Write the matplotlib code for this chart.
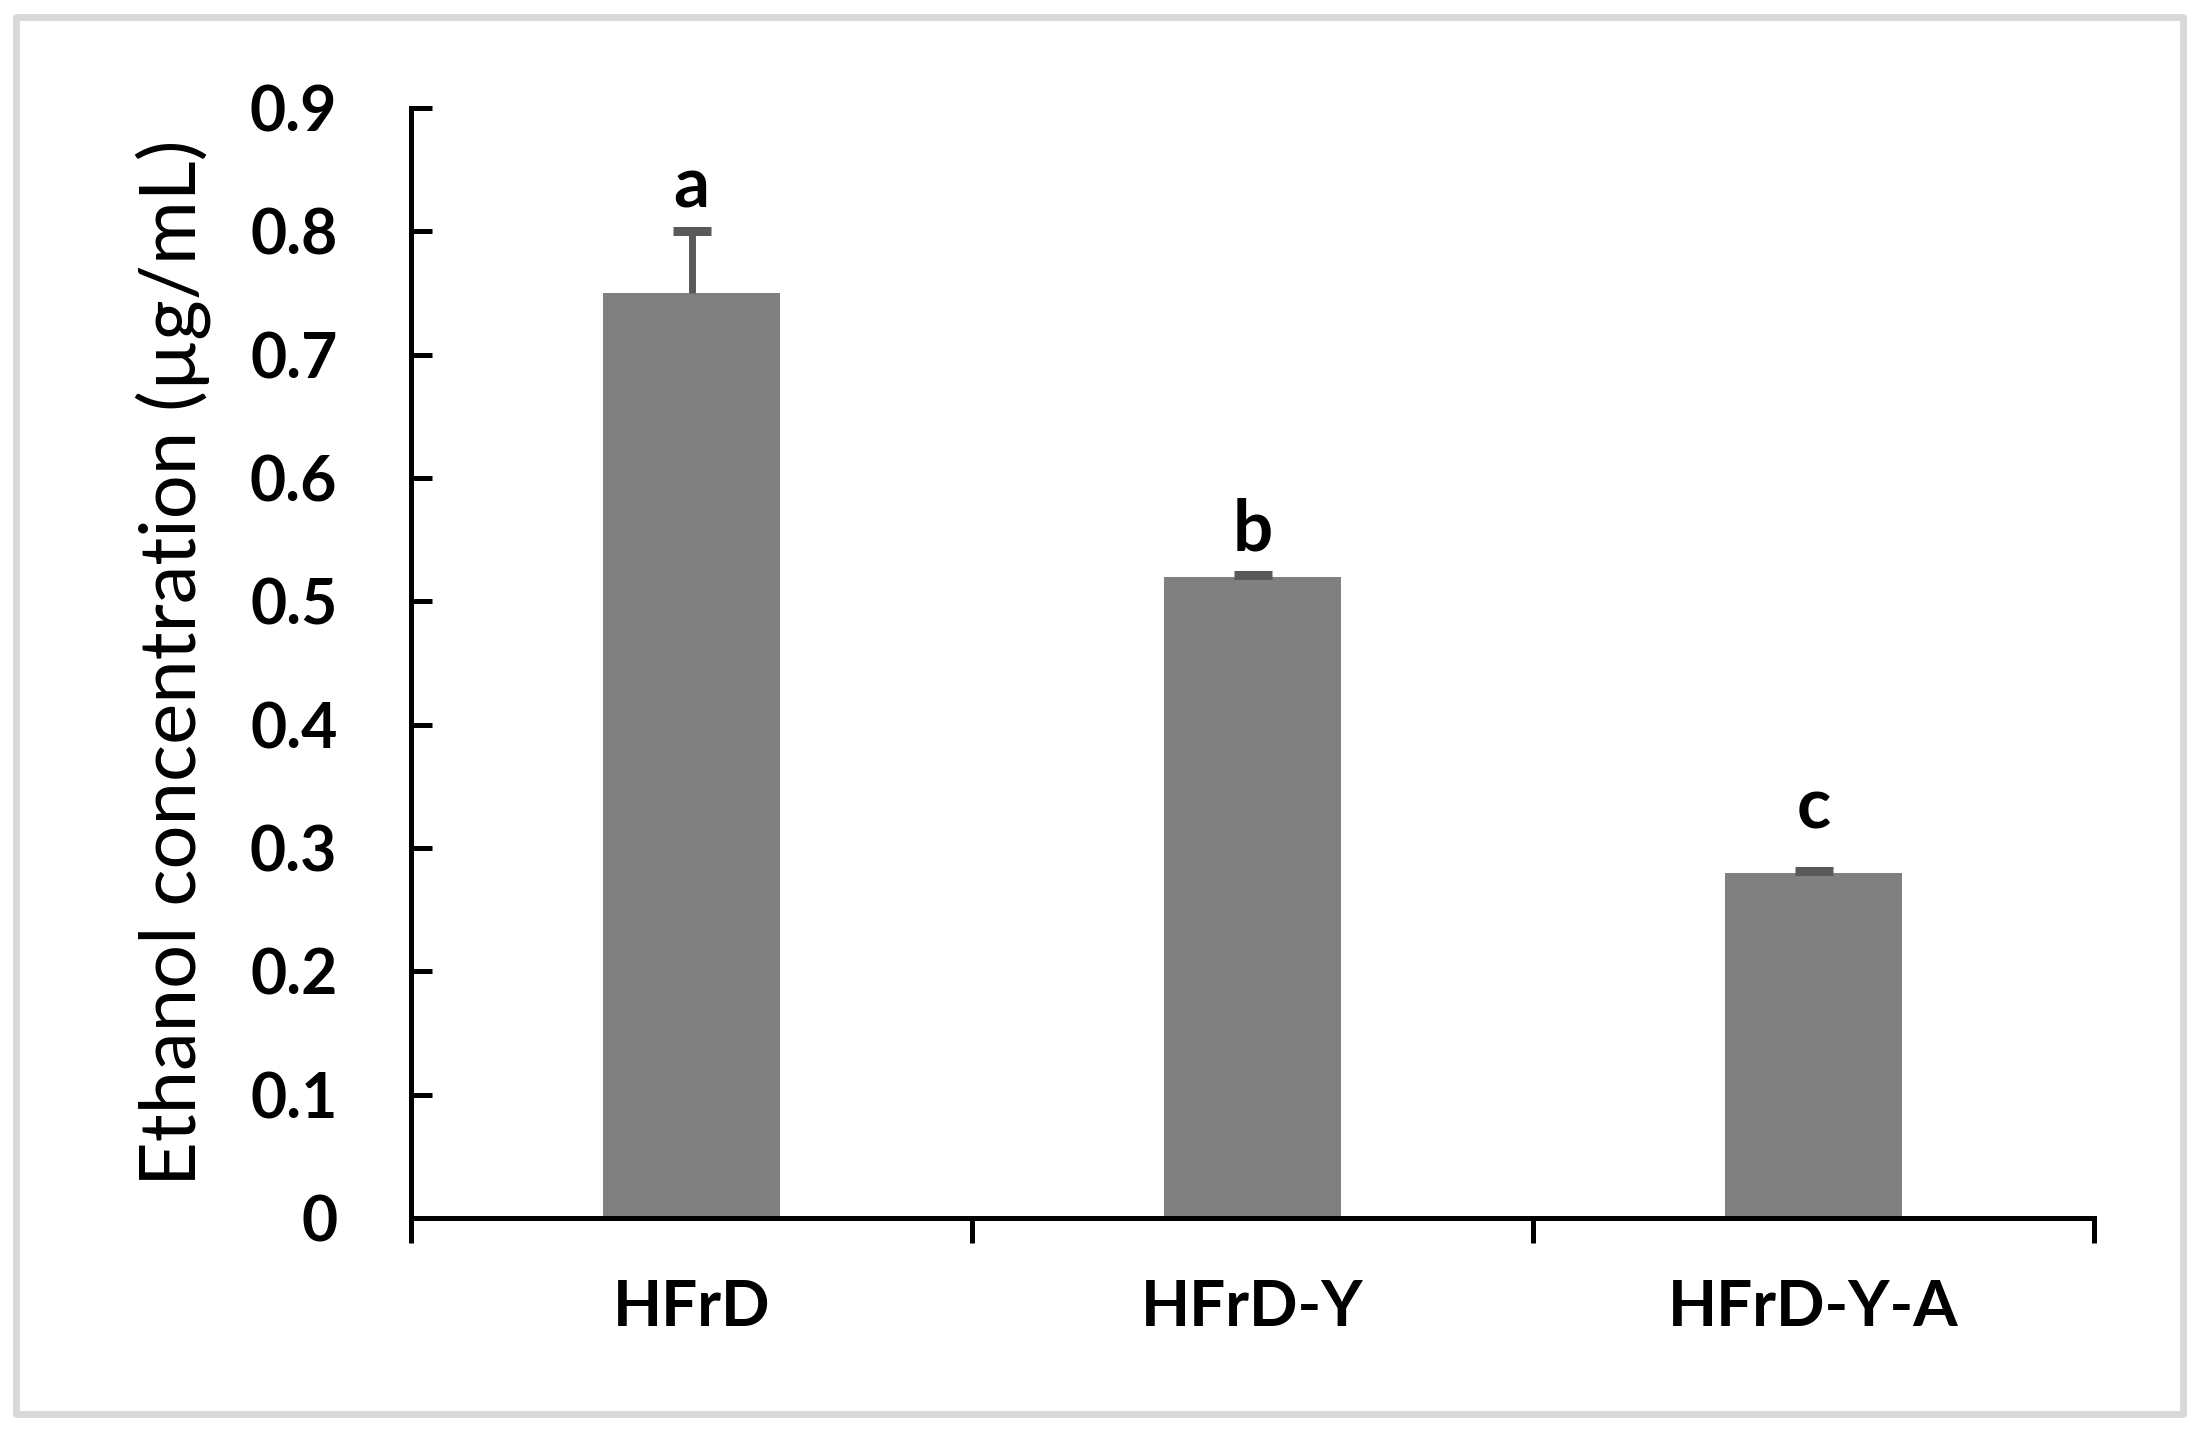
import matplotlib
matplotlib.use("Agg")
import matplotlib.pyplot as plt
from matplotlib.patches import Rectangle
import numpy as np

# data
groups = ["HFrD", "HFrD-Y", "HFrD-Y-A"]
ethanol = [0.75, 0.52, 0.28]
ethanol_err = [0.05, 0.001, 0.001]
letters = ["a", "b", "c"]
letter_y = [0.819, 0.541, 0.316]  # baseline of the significance letters
y_ticks = [0, 0.1, 0.2, 0.3, 0.4, 0.5, 0.6, 0.7, 0.8, 0.9]
y_labels = ["0", "0.1", "0.2", "0.3", "0.4", "0.5", "0.6", "0.7", "0.8", "0.9"]

plt.rcParams["font.family"] = ["Lato", "DejaVu Sans"]

W, H = 2201, 1433
fig = plt.figure(figsize=(W / 100, H / 100), dpi=100)

# light grey frame round the whole picture
fig.patches.append(Rectangle((16 / W, 1 - 1414 / H), (2183 - 16) / W, (1414 - 17) / H,
                             transform=fig.transFigure, fill=False,
                             edgecolor="#d9d9d9", linewidth=5, joinstyle="round"))

ax = fig.add_axes([411 / W, 1 - 1218 / H, (2094 - 411) / W, (1218 - 108) / H])

x = np.arange(len(groups))
ax.bar(x, ethanol, width=0.314, color="#808080", zorder=2)
eb = ax.errorbar(x, ethanol, yerr=[np.zeros(len(x)), ethanol_err], fmt="none",
                 ecolor="#595959", elinewidth=5, capsize=13.5, capthick=6.5, zorder=3)
# plus-only error bars: drop the cap that sits on the bar top
for cap in eb[1]:
    if np.allclose(cap.get_ydata(), ethanol):
        cap.set_visible(False)

for xi, lab, ly in zip(x, letters, letter_y):
    ax.text(xi, ly, lab, ha="center", va="baseline", fontsize=51, fontweight="bold")

ax.set_xlim(-0.5, len(groups) - 0.5)
ax.set_ylim(0, 0.9)

# category boundaries carry the tick marks, labels sit in between
ax.set_xticks(np.arange(len(groups) + 1) - 0.5)
ax.set_xticklabels([])
ax.set_xticks(x, minor=True)
ax.set_xticklabels(groups, minor=True, fontsize=46, fontweight="bold")
ax.tick_params(axis="x", which="major", direction="out", length=18, width=3.6)
ax.tick_params(axis="x", which="minor", length=0, pad=44)

ax.set_yticks(y_ticks)
ax.set_yticklabels(y_labels, fontsize=45, fontweight="bold")
ax.tick_params(axis="y", direction="in", length=15, width=3.6, pad=53)

for side in ["top", "right"]:
    ax.spines[side].set_visible(False)
for side in ["left", "bottom"]:
    ax.spines[side].set_linewidth(3.6)
    ax.spines[side].set_capstyle("projecting")

ax.set_ylabel("Ethanol concentration (µg/mL)", fontsize=56)
ax.yaxis.set_label_coords(-0.119, 0.5)

fig.savefig("out.png", dpi=100)
